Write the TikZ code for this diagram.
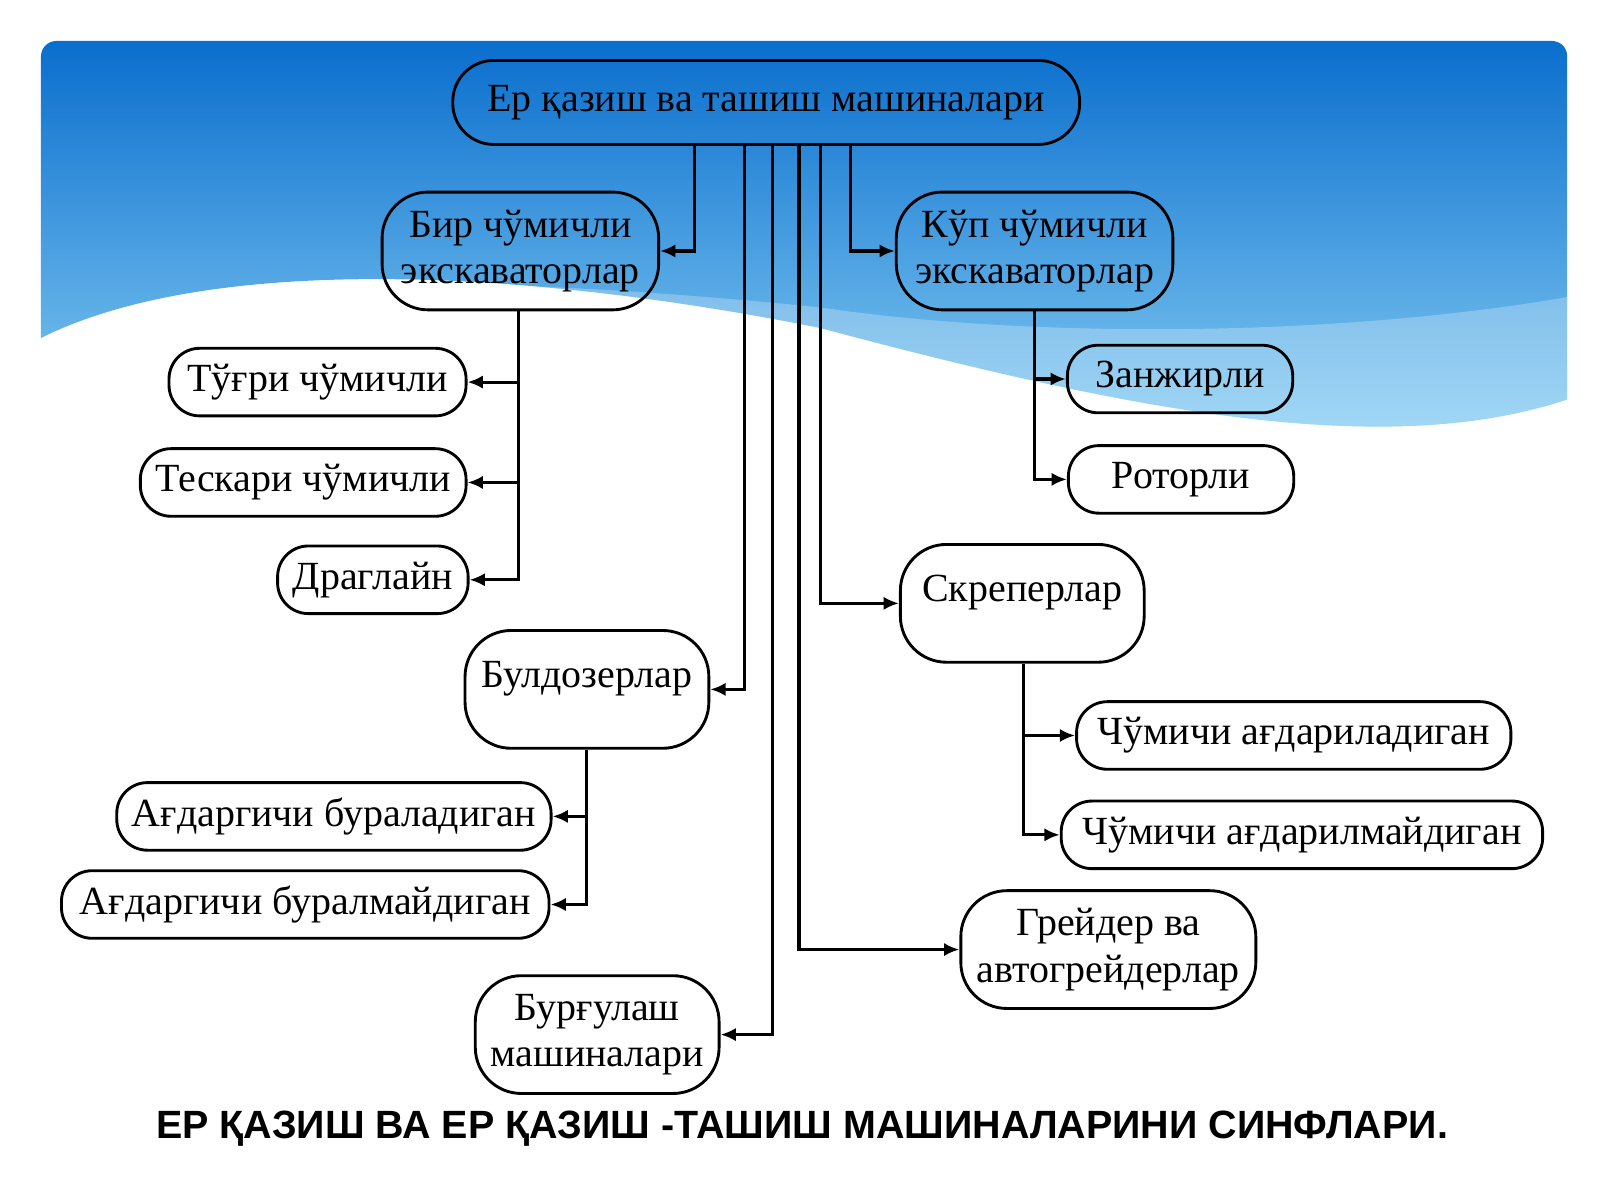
\documentclass[tikz,border=0pt]{standalone}
\usepackage{fontspec}
\setmainfont{Liberation Serif}
\setsansfont{Liberation Sans}
\usetikzlibrary{arrows.meta}
\begin{document}
\begin{tikzpicture}[x=1pt,y=-1pt,
 box/.style={draw=black,line width=2.8pt,rounded corners=30pt,align=center,inner sep=0pt,font=\fontsize{39}{45}\selectfont,text=black},
 arr/.style={line width=3pt,-{Latex[length=15pt,width=13pt]}},
 ln/.style={line width=3pt}]
\useasboundingbox (0,0) rectangle (1562,1171);
\fill[white] (0,0) rectangle (1562,1171);
\shade[top color={rgb,255:red,10;green,110;blue,205},bottom color={rgb,255:red,140;green,210;blue,245}]
 (40,330) [rounded corners=15pt] -- (40,40) -- (1530,40) [rounded corners=0pt] -- (1530,390)
 .. controls (1350,450) and (1100,400) .. (800,320) .. controls (500,260) and (200,250) .. (40,330) -- cycle;
\fill[white,opacity=0.25] (40,330) .. controls (200,250) and (500,260) .. (800,320) .. controls (1100,400) and (1350,450) .. (1530,390) -- (1530,290) .. controls (1300,330) and (1000,330) .. (800,300) .. controls (500,270) and (200,260) .. (40,330) -- cycle;
\node[box,minimum width=612pt,minimum height=82pt,rounded corners=40pt] (top) at (748,100) {Ер қазиш ва ташиш машиналари};
\node[box,minimum width=270pt,minimum height=115pt,rounded corners=45pt] (bir) at (508,245) {Бир чўмичли\\экскаваторлар};
\node[box,minimum width=270pt,minimum height=115pt,rounded corners=45pt] (kup) at (1010,245) {Кўп чўмичли\\экскаваторлар};
\node[box,minimum width=290pt,minimum height=66pt] (tug) at (310,373) {Тўғри чўмичли};
\node[box,minimum width=318pt,minimum height=66pt] (tes) at (296,471) {Тескари чўмичли};
\node[box,minimum width=186pt,minimum height=66pt] (dra) at (364,566) {Драглайн};
\node[box,minimum width=220pt,minimum height=66pt] (zan) at (1152,370) {Занжирли};
\node[box,minimum width=220pt,minimum height=66pt] (rot) at (1153,468) {Роторли};
\node[box,minimum width=238pt,minimum height=115pt,rounded corners=45pt,text depth=30pt] (skr) at (998,589) {Скреперлар};
\node[box,minimum width=238pt,minimum height=115pt,rounded corners=45pt,text depth=30pt] (bul) at (573,673) {Булдозерлар};
\node[box,minimum width=424pt,minimum height=66pt] (ag1) at (326,797) {Ағдаргичи бураладиган};
\node[box,minimum width=476pt,minimum height=66pt] (ag2) at (298,883) {Ағдаргичи буралмайдиган};
\node[box,minimum width=424pt,minimum height=66pt] (ch1) at (1263,718) {Чўмичи ағдариладиган};
\node[box,minimum width=470pt,minimum height=66pt] (ch2) at (1271,815) {Чўмичи ағдарилмайдиган};
\node[box,minimum width=288pt,minimum height=115pt,rounded corners=45pt] (gre) at (1082,927) {Грейдер ва\\автогрейдерлар};
\node[box,minimum width=238pt,minimum height=115pt,rounded corners=45pt] (bur) at (583,1010) {Бурғулаш\\машиналари};
\node[font=\sffamily\bfseries\fontsize{38.5}{42}\selectfont] (cap) at (783,1102) {ЕР ҚАЗИШ ВА ЕР ҚАЗИШ -ТАШИШ МАШИНАЛАРИНИ СИНФЛАРИ.};
\coordinate (x1) at (678,0); \coordinate (x2) at (830,0); \coordinate (x3) at (727,0);
\coordinate (x4) at (754,0); \coordinate (x5) at (780,0); \coordinate (x6) at (801,0);
\coordinate (xb) at (506,0); \coordinate (xk) at (1010,0); \coordinate (xs) at (999,0); \coordinate (xd) at (573,0);
\draw[arr] (top.south -| x1) |- (bir.east);
\draw[arr] (top.south -| x2) |- (kup.west);
\draw[arr] (top.south -| x3) |- (bul.east);
\draw[arr] (top.south -| x4) |- (bur.east);
\draw[arr] (top.south -| x5) |- (gre.west);
\draw[arr] (top.south -| x6) |- (skr.west);
\draw[arr] (bir.south -| xb) |- (tug.east);
\draw[arr] (bir.south -| xb) |- (tes.east);
\draw[arr] (bir.south -| xb) |- (dra.east);
\draw[arr] (kup.south -| xk) |- (zan.west);
\draw[arr] (kup.south -| xk) |- (rot.west);
\draw[arr] (skr.south -| xs) |- (ch1.west);
\draw[arr] (skr.south -| xs) |- (ch2.west);
\draw[arr] (bul.south -| xd) |- (ag1.east);
\draw[arr] (bul.south -| xd) |- (ag2.east);
\end{tikzpicture}
\end{document}
